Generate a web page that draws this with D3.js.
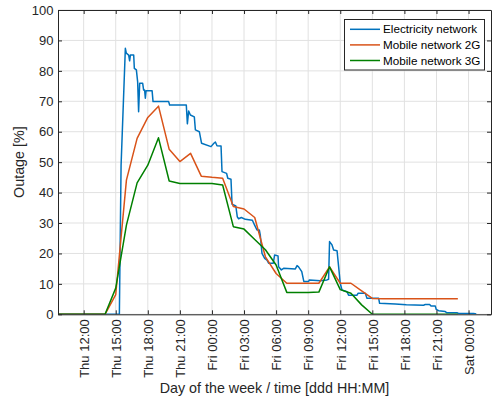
<!DOCTYPE html>
<html>
<head>
<meta charset="utf-8">
<script src="https://cdn.jsdelivr.net/npm/d3@7"></script>
<style>
  html, body { margin: 0; padding: 0; background: #fff; }
  svg { display: block; font-family: "Liberation Sans", Arial, Helvetica, sans-serif; }
</style>
</head>
<body>
<svg id="chart" width="496" height="399"></svg>
<script>
// Hours are counted from Thursday 00:00.
const xDomain = [9.6, 50.1];
const tickHours = [12, 15, 18, 21, 24, 27, 30, 33, 36, 39, 42, 45, 48];
const tickLabels = ["Thu 12:00", "Thu 15:00", "Thu 18:00", "Thu 21:00", "Fri 00:00",
  "Fri 03:00", "Fri 06:00", "Fri 09:00", "Fri 12:00", "Fri 15:00", "Fri 18:00",
  "Fri 21:00", "Sat 00:00"];
const yTicks = [0, 10, 20, 30, 40, 50, 60, 70, 80, 90, 100];

const seriesNames = ["Electricity network", "Mobile network 2G", "Mobile network 3G"];
const seriesColors = ["#0072BD", "#D95319", "#008000"];

// Electricity network outage (%), irregular samples
const elecHours = [9.6, 15.34, 15.50, 15.90, 15.99, 16.21, 16.30, 16.37, 16.68, 16.74,
  16.93, 17.05, 17.14, 17.24, 17.52, 17.61, 17.70, 17.77, 17.84, 18.40,
  18.49, 19.95, 20.04, 21.60, 21.70, 21.82, 21.98, 22.35, 22.45, 22.82,
  23.03, 23.91, 24.18, 24.32, 24.47, 24.85, 24.94, 25.37, 25.48, 25.78,
  25.88, 26.23, 26.37, 26.49, 26.75, 27.12, 27.78, 27.99, 28.21, 28.43,
  28.52, 28.68, 28.93, 29.15, 29.30, 29.74, 29.86, 30.18, 30.23, 30.49,
  30.70, 31.80, 31.96, 32.10, 32.40, 32.59, 33.04, 33.11, 34.13, 34.76,
  34.91, 35.00, 35.23, 35.38, 35.70, 35.85, 36.00, 36.16, 36.63, 36.78,
  37.57, 37.66, 38.34, 38.50, 39.59, 39.68, 41.15, 42.18, 43.79, 43.95,
  44.36, 44.49, 44.89, 44.98, 45.20, 45.82, 45.98, 46.92, 47.07, 48.47, 48.72];
const elecValues = [0, 0, 49.0, 87.4, 85.8, 85.2, 83.3, 85.2, 85.2, 80.8,
  80.3, 76.4, 66.6, 75.9, 75.9, 73.7, 73.7, 71.0, 73.5, 73.5,
  69.9, 69.9, 68.8, 68.8, 62.6, 66.8, 65.5, 64.9, 60.6, 60.0,
  56.2, 55.1, 56.2, 56.6, 55.4, 55.3, 46.9, 46.3, 44.7, 44.4,
  36.2, 35.6, 32.0, 31.4, 31.8, 31.2, 30.9, 29.3, 27.7, 27.7,
  26.0, 20.0, 18.4, 17.8, 16.8, 16.8, 19.5, 19.2, 15.6, 14.6,
  15.1, 14.9, 16.0, 15.6, 14.0, 10.8, 10.8, 11.3, 11.0, 11.3,
  11.5, 23.9, 22.8, 21.1, 20.9, 15.6, 10.2, 8.0, 7.4, 6.3,
  6.3, 6.9, 6.9, 5.3, 5.3, 3.6, 3.4, 3.1, 3.0, 3.2,
  3.2, 2.7, 2.7, 1.6, 1.2, 0.9, 0.5, 0.5, 0.3, 0.3, 0.1];

// Mobile networks, hourly samples
const mobileHours = [9.6, 10, 11, 12, 13, 14, 15, 16, 17, 18, 19, 20, 21, 22, 23, 24,
  25, 26, 27, 28, 29, 30, 31, 32, 33, 34, 35, 36, 37, 38, 39, 40, 41, 42, 43, 44, 45, 46, 47];
const mobile2GValues = [0, 0, 0, 0, 0, 0, 6.5, 44.1, 57.8, 64.7, 68.4, 54.2, 50.2, 52.9, 45.4, 45.0,
  44.7, 35.4, 34.6, 31.8, 18.9, 13.4, 10.2, 10.2, 10.2, 10.2, 15.6, 10.2, 10.2, 7.7, 5.2, 5.1, 5.1, 5.1, 5.1, 5.1, 5.1, 5.1, 5.1];
const mobile3GValues = [0, 0, 0, 0, 0, 0, 8.6, 29.3, 43.2, 49.0, 58.0, 43.8, 43.0, 43.0, 43.0, 43.0,
  42.5, 28.8, 28.0, 24.6, 21.2, 16.2, 7.2, 7.2, 7.2, 7.3, 15.6, 8.1, 6.9, 3.1, 0, 0, 0, 0, 0, 0, 0, 0, 0];

const series = [
  { name: seriesNames[0], color: seriesColors[0], hours: elecHours, values: elecValues },
  { name: seriesNames[1], color: seriesColors[1], hours: mobileHours, values: mobile2GValues },
  { name: seriesNames[2], color: seriesColors[2], hours: mobileHours, values: mobile3GValues }
];

const plot = { left: 58, right: 491, top: 10, bottom: 314.3 };
const axisColor = "#262626";
const gridColor = "#e1e1e1";

const svg = d3.select("#chart");
const x = d3.scaleLinear().domain(xDomain).range([plot.left, plot.right]);
const y = d3.scaleLinear().domain([0, 100]).range([plot.bottom, plot.top]);

// grid
const grid = svg.append("g");
grid.selectAll(".gx").data(tickHours).join("line")
  .attr("x1", d => x(d)).attr("x2", d => x(d))
  .attr("y1", plot.top).attr("y2", plot.bottom)
  .attr("stroke", gridColor).attr("stroke-width", 1);
grid.selectAll(".gy").data(yTicks).join("line")
  .attr("x1", plot.left).attr("x2", plot.right)
  .attr("y1", d => y(d)).attr("y2", d => y(d))
  .attr("stroke", gridColor).attr("stroke-width", 1);

// series lines
const clip = svg.append("clipPath").attr("id", "plotclip").append("rect")
  .attr("x", plot.left).attr("y", plot.top)
  .attr("width", plot.right - plot.left).attr("height", plot.bottom - plot.top);
const line = d3.line().x(d => x(d[0])).y(d => y(d[1]));
svg.append("g").attr("clip-path", "url(#plotclip)")
  .selectAll("path").data(series).join("path")
  .attr("d", s => line(s.hours.map((h, i) => [h, s.values[i]])))
  .attr("fill", "none")
  .attr("stroke", s => s.color)
  .attr("stroke-width", 1.5)
  .attr("stroke-linejoin", "round");

// axes (inward ticks on all four sides)
function styleAxis(g) {
  g.selectAll("path.domain").attr("stroke", axisColor).attr("stroke-width", 1);
  g.selectAll(".tick line").attr("stroke", axisColor).attr("stroke-width", 1);
  g.selectAll("text").attr("fill", axisColor).attr("font-size", 13)
    .attr("font-family", "'Liberation Sans', Arial, Helvetica, sans-serif");
}

const xAxis = svg.append("g").attr("transform", `translate(0,${plot.bottom})`)
  .call(d3.axisBottom(x).tickValues(tickHours).tickSizeInner(-4).tickSizeOuter(0)
    .tickFormat((d, i) => tickLabels[i]));
styleAxis(xAxis);
xAxis.selectAll("text")
  .attr("x", 0).attr("y", 0).attr("dy", null)
  .attr("text-anchor", "end")
  .attr("transform", "translate(4.8,5) rotate(-90)");

svg.append("g").attr("transform", `translate(0,${plot.top})`)
  .call(d3.axisTop(x).tickValues(tickHours).tickSizeInner(-4).tickSizeOuter(0).tickFormat(""))
  .call(styleAxis);

const yAxis = svg.append("g").attr("transform", `translate(${plot.left},0)`)
  .call(d3.axisLeft(y).tickValues(yTicks).tickSizeInner(-4).tickSizeOuter(0).tickPadding(4.5));
styleAxis(yAxis);

svg.append("g").attr("transform", `translate(${plot.right},0)`)
  .call(d3.axisRight(y).tickValues(yTicks).tickSizeInner(-4).tickSizeOuter(0).tickFormat(""))
  .call(styleAxis);

// axis titles
svg.append("text")
  .attr("x", (plot.left + plot.right) / 2).attr("y", 393)
  .attr("text-anchor", "middle").attr("font-size", 14.3).attr("fill", axisColor)
  .text("Day of the week / time [ddd HH:MM]");
svg.append("text")
  .attr("transform", `translate(23.5,${(plot.top + plot.bottom) / 2}) rotate(-90)`)
  .attr("text-anchor", "middle").attr("font-size", 14.3).attr("fill", axisColor)
  .text("Outage [%]");

// legend
const legend = svg.append("g");
legend.append("rect")
  .attr("x", 344.5).attr("y", 19.5).attr("width", 140).attr("height", 50.5)
  .attr("fill", "#fff").attr("stroke", axisColor).attr("stroke-width", 1);
const rows = legend.selectAll("g.row").data(series).join("g")
  .attr("transform", (d, i) => `translate(0,${29.3 + i * 15.6})`);
rows.append("line")
  .attr("x1", 350).attr("x2", 380).attr("y1", 0).attr("y2", 0)
  .attr("stroke", d => d.color).attr("stroke-width", 1.5);
rows.append("text")
  .attr("x", 383).attr("y", 0).attr("dy", "0.35em")
  .attr("font-size", 11.7).attr("fill", "#000")
  .text(d => d.name);
</script>
</body>
</html>
